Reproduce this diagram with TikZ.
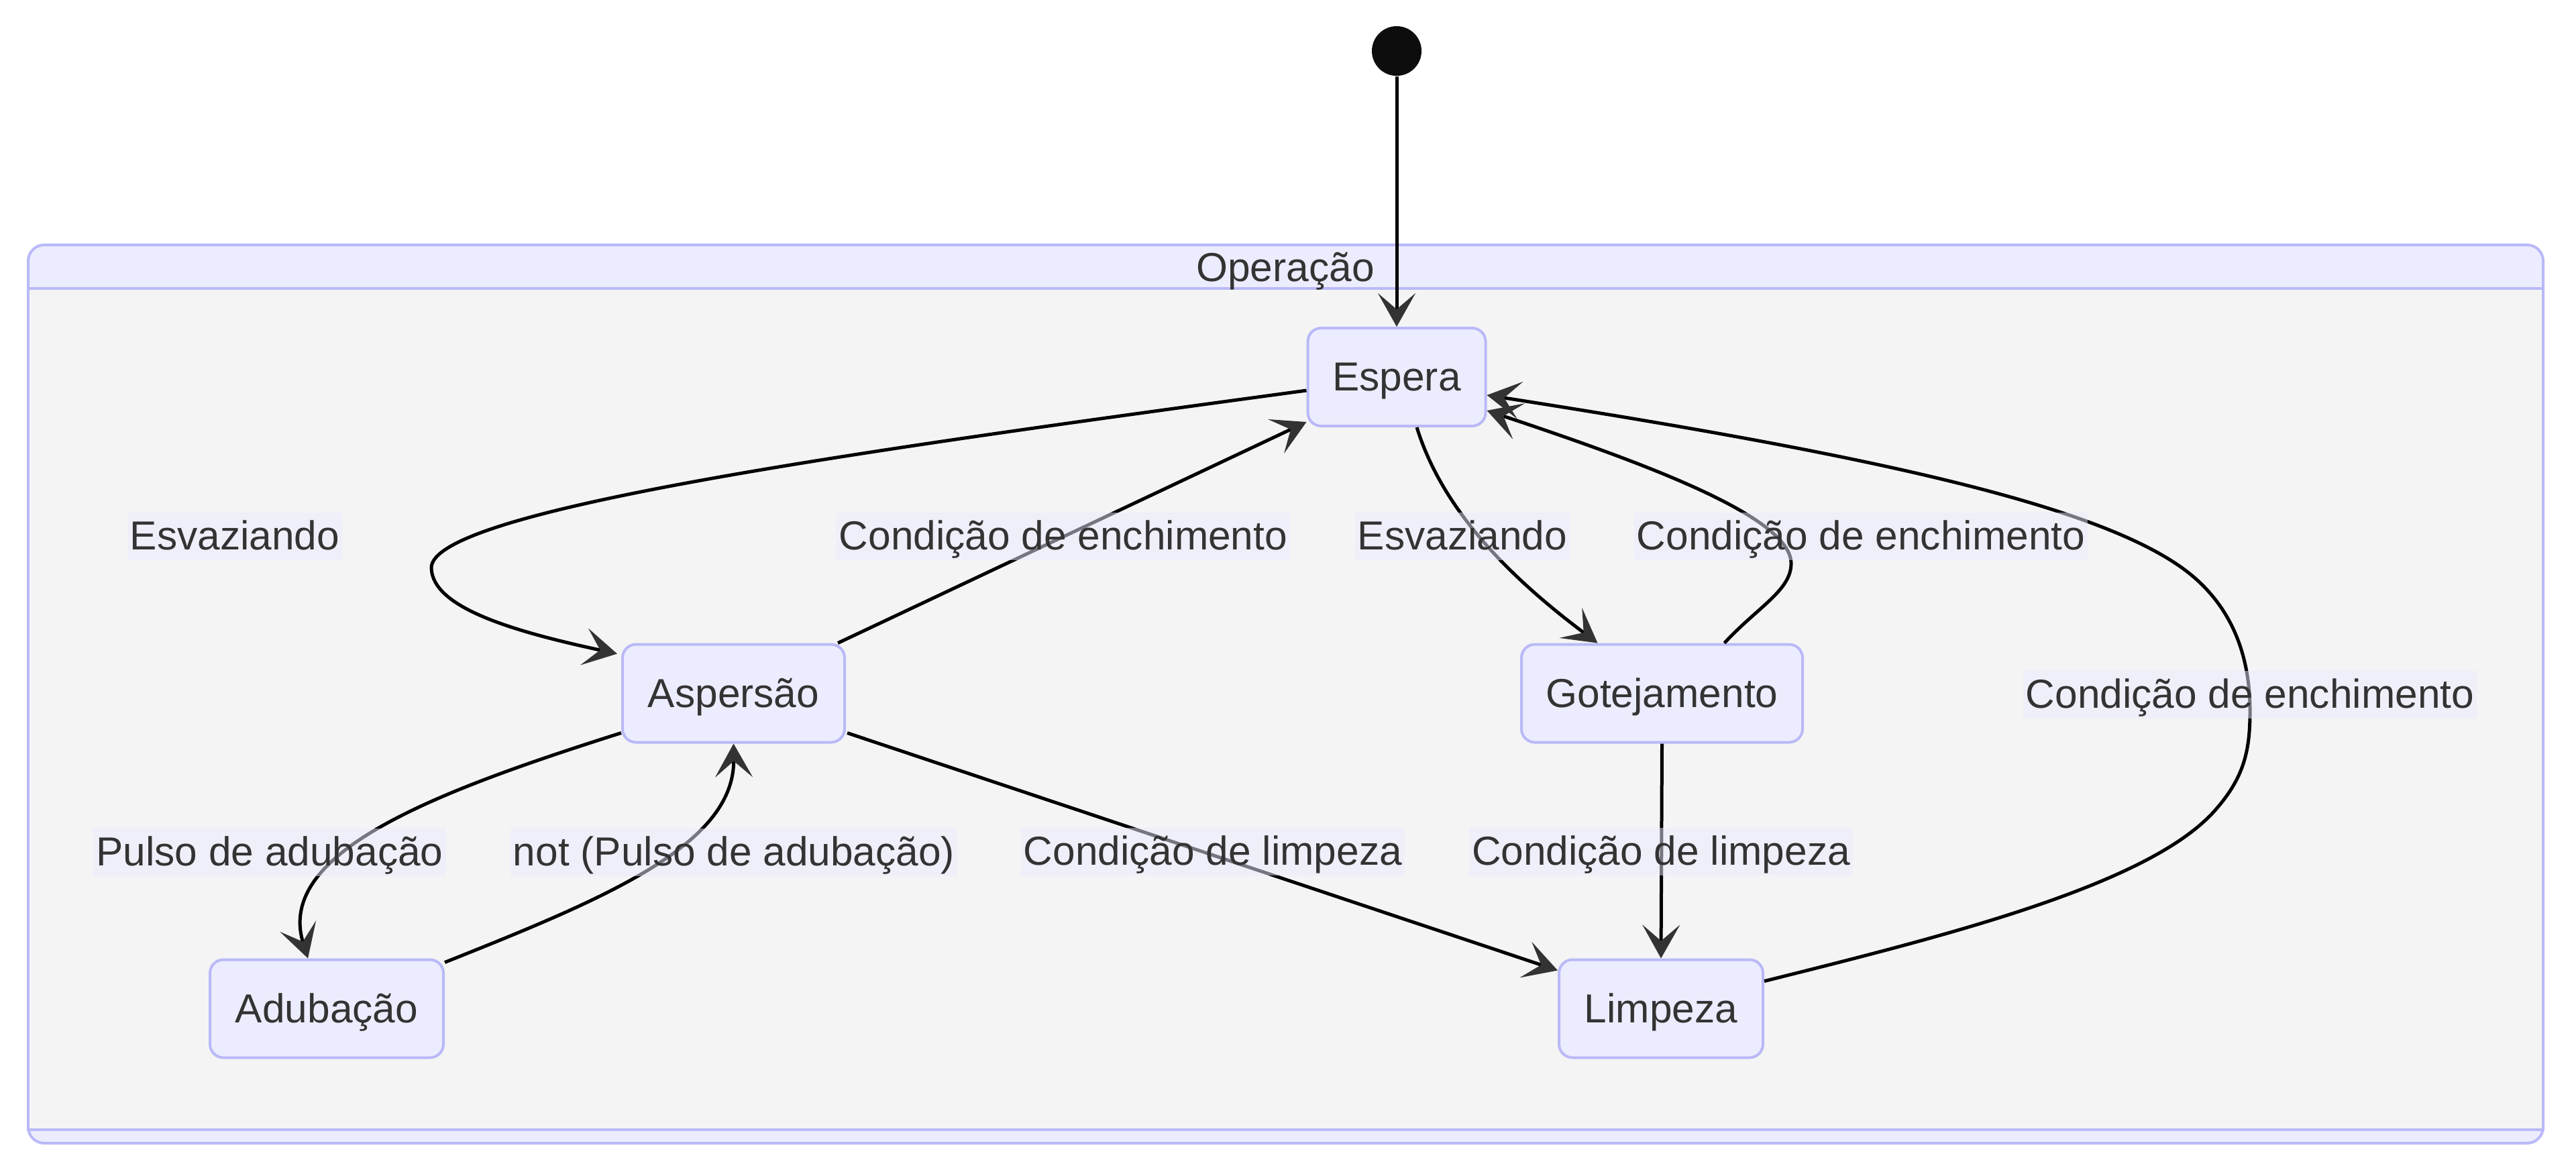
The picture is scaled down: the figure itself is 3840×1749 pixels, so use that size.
\documentclass[tikz,border=0pt]{standalone}
\usepackage{fontspec}
\setmainfont{Liberation Sans}
\usetikzlibrary{arrows.meta,calc}
\definecolor{nodefill}{HTML}{ECECFF}
\definecolor{nodeborder}{HTML}{B9B9F8}
\definecolor{innerbg}{HTML}{F4F4F4}
\definecolor{txt}{HTML}{333333}
\definecolor{arrowc}{HTML}{333333}
\definecolor{startc}{HTML}{0D0D0D}
\begin{document}
\begin{tikzpicture}[x=0.25pt,y=-0.25pt,
  every node/.style={font=\fontsize{15.1pt}{18pt}\selectfont, text=txt,
    text height=10.4pt, text depth=0pt},
  state/.style={draw=nodeborder, line width=1pt, fill=nodefill, rounded corners=5pt,
    minimum height=36.5pt, inner sep=0pt},
  elabel/.style={fill=nodefill, fill opacity=0.5, text opacity=1, inner xsep=1pt,
    inner ysep=0pt, minimum height=17.75pt},
  trans/.style={draw=black, line width=1.25pt,
    -{Stealth[length=12.5pt,width=14pt,inset=6pt,color=arrowc]}}]
\useasboundingbox (0,0) rectangle (3840,1749);
\fill[white] (0,0) rectangle (3840,1749);
% composite state
\draw[draw=nodeborder, line width=1pt, fill=nodefill, rounded corners=6pt] (42,365) rectangle (3791,1704);
\draw[draw=nodeborder, line width=1pt, fill=innerbg] (42,430) rectangle (3791,1684);
\node (title) at (1916,399) {Operação};
% nodes
\node[circle, fill=startc, minimum size=18.5pt, inner sep=0pt, text height=0pt] (start) at (2082,76) {};
\node[state, minimum width=66.25pt] (esp) at (2082,562) {Espera};
\node[state, minimum width=82.75pt] (asp) at (1093.5,1033.5) {Aspersão};
\node[state, minimum width=104.75pt] (got) at (2477.5,1033.5) {Gotejamento};
\node[state, minimum width=87pt] (adu) at (487,1503.5) {Adubação};
\node[state, minimum width=76pt] (lim) at (2476,1503.5) {Limpeza};
% transitions
\draw[trans] (start.south) -- (esp.north);
\draw[trans] ($(esp.west)+(0,20)$) .. controls (1300,670) and (640,760) .. (643,847)
  .. controls (645,905) and (760,940) .. ($(asp.north west)+(-6,16)$);
\draw[trans] ($(asp.north east)+(-12,0)$) -- ($(esp.south west)+(0,-8)$);
\draw[trans] ($(esp.south)+(30,0)$) .. controls (2150,760) and (2250,860) .. ($(got.north)+(-96,0)$);
\draw[trans] ($(got.north)+(93,0)$) .. controls (2620,905) and (2670,880) .. (2670,840)
  .. controls (2670,770) and (2450,690) .. ($(esp.south east)+(0,-25)$);
\draw[trans] ($(lim.east)+(0,-41)$) .. controls (2900,1395) and (3200,1320) .. (3300,1210)
  .. controls (3345,1160) and (3354,1120) .. (3354,1060)
  .. controls (3354,1000) and (3340,920) .. (3270,860)
  .. controls (3150,757) and (2800,680) .. ($(esp.east)+(0,27)$);
\draw[trans] ($(asp.south west)+(0,-16)$) .. controls (650,1180) and (410,1270) .. ($(adu.north)+(-28,0)$);
\draw[trans] ($(adu.north east)+(0,6)$) .. controls (900,1340) and (1095,1260) .. (asp.south);
\draw[trans] ($(asp.south east)+(2,-16)$) -- ($(lim.north west)+(0,18)$);
\draw[trans] (got.south) -- (lim.north);
% labels
\node[elabel] (l1) at (350,799) {Esvaziando};
\node[elabel] (l2) at (1585,799) {Condição de enchimento};
\node[elabel] (l3) at (2180,799) {Esvaziando};
\node[elabel] (l4) at (2774,799) {Condição de enchimento};
\node[elabel] (l5) at (3354,1035) {Condição de enchimento};
\node[elabel] (l6) at (402,1270) {Pulso de adubação};
\node[elabel] (l7) at (1094,1270) {not (Pulso de adubação)};
\node[elabel] (l8) at (1808,1269) {Condição de limpeza};
\node[elabel] (l9) at (2476,1269) {Condição de limpeza};
\end{tikzpicture}
\end{document}
